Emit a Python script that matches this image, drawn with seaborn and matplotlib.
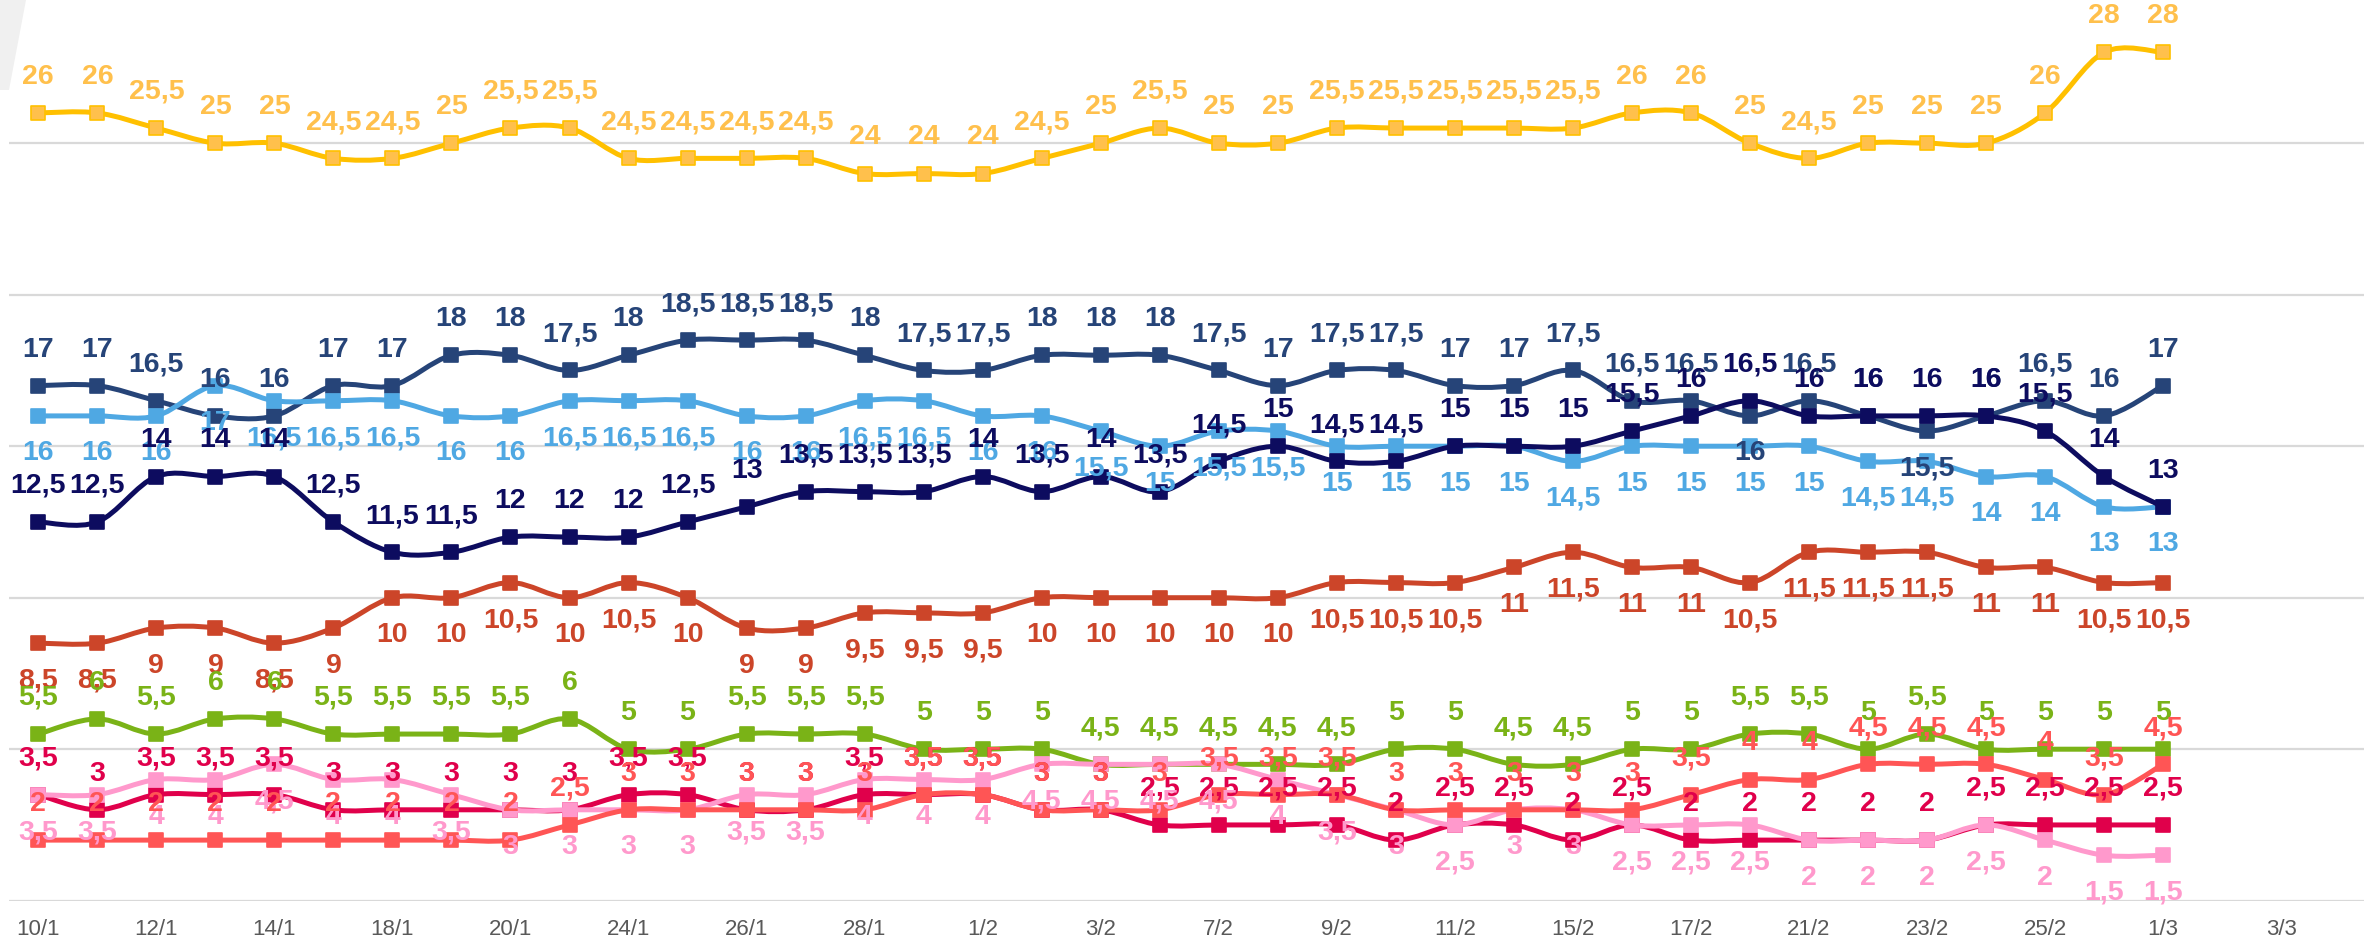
import matplotlib
matplotlib.use("Agg")
import matplotlib.pyplot as plt
from matplotlib.path import Path
from matplotlib.patches import PathPatch, Polygon
import numpy as np
import pandas as pd
import seaborn as sns

# x axis: 40 category slots, a label on every second one
n_slots = 40
tick_labels = ['10/1', '12/1', '14/1', '18/1', '20/1', '24/1', '26/1', '28/1', '1/2', '3/2',
               '7/2', '9/2', '11/2', '15/2', '17/2', '21/2', '23/2', '25/2', '1/3', '3/3']

# series values (one per poll, 37 polls)
amarillo = [26, 26, 25.5, 25, 25, 24.5, 24.5, 25, 25.5, 25.5, 24.5, 24.5, 24.5, 24.5, 24, 24, 24,
            24.5, 25, 25.5, 25, 25, 25.5, 25.5, 25.5, 25.5, 25.5, 26, 26, 25, 24.5, 25, 25, 25,
            26, 28, 28]
azul_gris = [17, 17, 16.5, 16, 16, 17, 17, 18, 18, 17.5, 18, 18.5, 18.5, 18.5, 18, 17.5, 17.5,
             18, 18, 18, 17.5, 17, 17.5, 17.5, 17, 17, 17.5, 16.5, 16.5, 16, 16.5, 16, 15.5, 16,
             16.5, 16, 17]
celeste = [16, 16, 16, 17, 16.5, 16.5, 16.5, 16, 16, 16.5, 16.5, 16.5, 16, 16, 16.5, 16.5, 16,
           16, 15.5, 15, 15.5, 15.5, 15, 15, 15, 15, 14.5, 15, 15, 15, 15, 14.5, 14.5, 14, 14,
           13, 13]
marino = [12.5, 12.5, 14, 14, 14, 12.5, 11.5, 11.5, 12, 12, 12, 12.5, 13, 13.5, 13.5, 13.5, 14,
          13.5, 14, 13.5, 14.5, 15, 14.5, 14.5, 15, 15, 15, 15.5, 16, 16.5, 16, 16, 16, 16,
          15.5, 14, 13]
teja = [8.5, 8.5, 9, 9, 8.5, 9, 10, 10, 10.5, 10, 10.5, 10, 9, 9, 9.5, 9.5, 9.5, 10, 10, 10,
        10, 10, 10.5, 10.5, 10.5, 11, 11.5, 11, 11, 10.5, 11.5, 11.5, 11.5, 11, 11, 10.5, 10.5]
verde = [5.5, 6, 5.5, 6, 6, 5.5, 5.5, 5.5, 5.5, 6, 5, 5, 5.5, 5.5, 5.5, 5, 5, 5, 4.5, 4.5,
         4.5, 4.5, 4.5, 5, 5, 4.5, 4.5, 5, 5, 5.5, 5.5, 5, 5.5, 5, 5, 5, 5]
granate = [3.5, 3, 3.5, 3.5, 3.5, 3, 3, 3, 3, 3, 3.5, 3.5, 3, 3, 3.5, 3.5, 3.5, 3, 3, 2.5,
           2.5, 2.5, 2.5, 2, 2.5, 2.5, 2, 2.5, 2, 2, 2, 2, 2, 2.5, 2.5, 2.5, 2.5]
rosa = [3.5, 3.5, 4, 4, 4.5, 4, 4, 3.5, 3, 3, 3, 3, 3.5, 3.5, 4, 4, 4, 4.5, 4.5, 4.5,
        4.5, 4, 3.5, 3, 2.5, 3, 3, 2.5, 2.5, 2.5, 2, 2, 2, 2.5, 2, 1.5, 1.5]
salmon = [2, 2, 2, 2, 2, 2, 2, 2, 2, 2.5, 3, 3, 3, 3, 3, 3.5, 3.5, 3, 3, 3,
          3.5, 3.5, 3.5, 3, 3, 3, 3, 3, 3.5, 4, 4, 4.5, 4.5, 4.5, 4, 3.5, 4.5]

# points of azul_gris whose label sits under the marker
azul_gris_below = [29, 32]

# style per series: line colour, marker face, label colour, label side
series = [
    ('amarillo', amarillo, '#FFC000', '#FFC04C', '#FFC04C', 'above'),
    ('azul_gris', azul_gris, '#264478', '#264478', '#264478', 'above'),
    ('celeste', celeste, '#4FA8E3', '#4FA8E3', '#4FA8E3', 'below'),
    ('marino', marino, '#0D0C5F', '#0D0C5F', '#0D0C5F', 'above'),
    ('teja', teja, '#CC4529', '#CC4529', '#CC4529', 'below'),
    ('verde', verde, '#7AB317', '#7AB317', '#7AB317', 'above'),
    ('granate', granate, '#E0004B', '#E0004B', '#E0004B', 'above'),
    ('rosa', rosa, '#FF99CC', '#FF99CC', '#FF99CC', 'below'),
    ('salmon', salmon, '#FF5555', '#FF5555', '#FF5555', 'above'),
]


def smooth_path(xs, ys):
    # Catmull-Rom style bezier through the points, like a smoothed office line
    pts = np.column_stack([xs, ys]).astype(float)
    n = len(pts)
    verts = [pts[0]]
    codes = [Path.MOVETO]
    for i in range(n - 1):
        p0 = pts[i - 1] if i > 0 else pts[i]
        p1 = pts[i]
        p2 = pts[i + 1]
        p3 = pts[i + 2] if i + 2 < n else pts[i + 1]
        verts += [p1 + (p2 - p0) / 6, p2 - (p3 - p1) / 6, p2]
        codes += [Path.CURVE4] * 3
    return Path(verts, codes)


sns.set_style('white')
plt.rcParams['font.family'] = ['Liberation Sans', 'DejaVu Sans']

fig = plt.figure(figsize=(23.64, 9.44), dpi=100)
ax = fig.add_axes([0.00372, 0.04587, 0.9987, 0.9629])

rows = []
for name, vals, lc, mc, tc, side in series:
    for i, v in enumerate(vals):
        rows.append({'serie': name, 'idx': i, 'valor': v})
df = pd.DataFrame(rows)

for z, (name, vals, lc, mc, tc, side) in enumerate(series):
    d = df[df['serie'] == name]
    ax.add_patch(PathPatch(smooth_path(d['idx'], d['valor']), facecolor='none', edgecolor=lc,
                           lw=3.6, capstyle='round', joinstyle='round', zorder=3 + z * 0.1))
    sns.scatterplot(data=d, x='idx', y='valor', marker='s', s=105, color=mc, edgecolor=lc,
                    linewidth=1.2, ax=ax, zorder=3.05 + z * 0.1, legend=False)

for name, vals, lc, mc, tc, side in series:
    for i, v in enumerate(vals):
        s = side
        if name == 'azul_gris' and i in azul_gris_below:
            s = 'below'
        dy = 26 if s == 'above' else -27
        ax.annotate(f'{v:g}'.replace('.', ','), (i, v), xytext=(0, dy), textcoords='offset points',
                    ha='center', va='center', fontsize=20.5, fontweight='bold', color=tc, zorder=10)

ax.set_xlim(-0.5, n_slots - 0.5)
ax.set_ylim(0, 30)
ax.set_yticks([0, 5, 10, 15, 20, 25])
ax.set_yticklabels([])
ax.set_xticks(range(0, n_slots, 2))
ax.set_xticklabels(tick_labels, fontsize=16, color='#595959')
ax.tick_params(axis='x', length=0, pad=13)
ax.tick_params(axis='y', length=0)
ax.grid(axis='y', color='#D9D9D9', lw=1.6)
ax.grid(axis='x', visible=False)
ax.set_xlabel('')
ax.set_ylabel('')
for sp in ax.spines.values():
    sp.set_visible(False)

# light grey sliver in the top left corner of the original capture
fig.add_artist(Polygon([(0, 944), (26, 944), (9, 854), (0, 854)], closed=True,
                       transform=None, facecolor='#F0F0F0', edgecolor='none'))

fig.savefig('out.png', dpi=100)
